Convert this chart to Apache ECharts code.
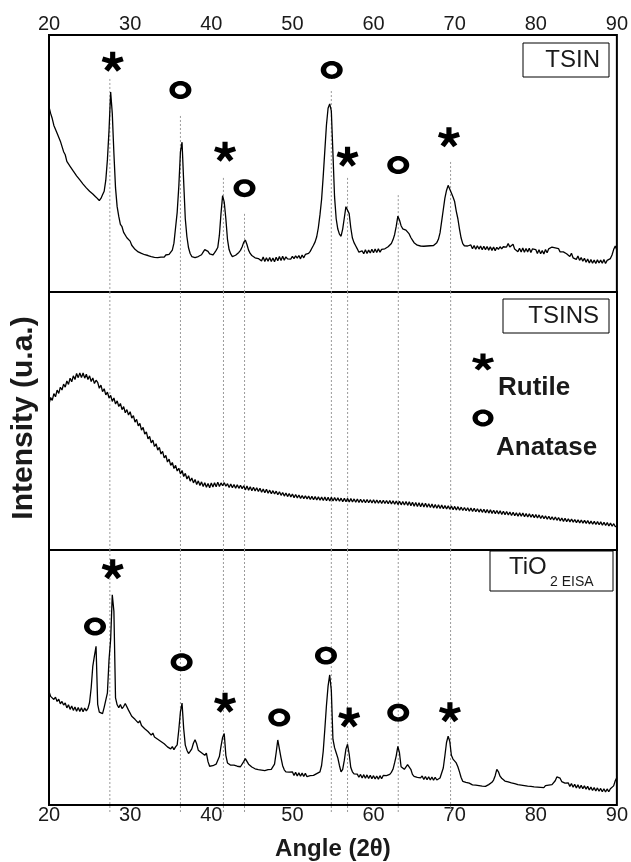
<!DOCTYPE html>
<html>
<head>
<meta charset="utf-8">
<script src="https://cdn.jsdelivr.net/npm/echarts@6/dist/echarts.min.js"></script>
<style>
  html, body { margin: 0; padding: 0; background: #fff; }
  #chart { width: 631px; height: 862px; }
</style>
</head>
<body>
<div id="chart"></div>
<script>
// x ticks and sampling step (2theta, degrees)
var tickMin = 20, tickMax = 90, tickStep = 10;
var angles = [];
for (var i = 0; i <= 350; i++) angles.push(+(20 + i * 0.2).toFixed(1));

// TSIN (top panel), one row = 2 degrees
var tsin = [
  72, 69.5, 67.5, 64.8, 64.2, 61.8, 61.5, 58.7, 58, 54.6,        // 20
  53.4, 50.8, 51, 48.9, 49.3, 47, 46.9, 45.2, 45.3, 43.6,        // 22
  43.8, 42, 42.4, 40.5, 40.9, 39.2, 39.9, 38.1, 38.5, 36.9,      // 24
  37.2, 35.6, 36.4, 37.8, 39.2, 43.5, 51.5, 63, 77.8, 69.5,      // 26
  54, 40.5, 33.2, 29.4, 26.3, 25.4, 23.2, 22.7, 21.1, 20.8,      // 28
  19.8, 18.2, 17.9, 16.6, 17.1, 15.6, 16.2, 15, 15.5, 14.5,      // 30
  14.9, 14.2, 14.6, 13.8, 14.3, 13.5, 14.1, 13.4, 13.9, 13.6,    // 32
  14, 13.6, 14.4, 14, 14.6, 15.2, 16.3, 19, 25, 31,              // 34
  41, 54.5, 58.3, 43, 28.5, 21.5, 17.2, 15, 13.8, 13.2,          // 36
  13.4, 13, 13.8, 13.7, 14.5, 15.5, 16.5, 17, 15.8, 14.8,        // 38
  14.2, 14.4, 15.2, 16.2, 17.3, 22, 30.5, 37.5, 35, 28.5,        // 40
  20.5, 16.5, 14.8, 13.8, 14, 14.3, 14.9, 15.4, 16.2, 17.5,      // 42
  19.3, 20.2, 18.5, 16.3, 15, 14.2, 13.7, 13.3, 13.6, 13,        // 44
  13.5, 12.1, 13.6, 11.9, 13.3, 12, 13.4, 11.9, 13.2, 11.8,      // 46
  13.5, 12.2, 13.8, 12.3, 13.9, 12.4, 13.7, 12.9, 13.6, 12.8,    // 48
  13.9, 13, 14.1, 13.2, 14.2, 12.9, 14.4, 13.3, 14.6, 14,        // 50
  15, 15.8, 17, 18.2, 19.5, 21.5, 25, 30, 36, 45,                // 52
  55, 65, 71.5, 73.2, 70.5, 54, 37, 28.5, 24.5, 22.5,            // 54
  21.7, 24.5, 28.8, 33.2, 33.6, 30.5, 25, 21, 19.2, 18,          // 56
  16.8, 15.5, 15.1, 16, 14.9, 16.4, 15, 16.3, 15.2, 16.6,        // 58
  15.3, 16.7, 15.4, 16.8, 15.5, 16.6, 16, 16.8, 16.5, 17.6,      // 60
  17.8, 18.9, 20.3, 22.3, 25.5, 29.5, 28, 25.8, 24.6, 24.9,      // 62
  24.1, 23.4, 22.6, 21.2, 20.2, 19.2, 18.6, 18.2, 17.6, 17.9,    // 64
  17.4, 17.8, 17.3, 17.9, 17.5, 18, 17.6, 18.1, 18.6, 19.2,      // 66
  20.5, 23, 27.5, 32, 36.5, 39.5, 41.5, 41.8, 38.5, 37,          // 68
  35.2, 31.5, 28.5, 24.5, 21, 18.8, 18, 17.6, 17.9, 17.3,        // 70
  18.3, 16.8, 18.1, 16.6, 18, 16.7, 17.9, 16.4, 17.8, 16.5,      // 72
  17.7, 16.3, 17.6, 16.2, 17.5, 16.1, 17.4, 16.6, 17.6, 16.8,    // 74
  17.6, 18, 17.5, 18.9, 17.5, 17, 18.6, 16.7, 16.4, 15.7,        // 76
  17, 15.6, 17.1, 15.5, 16.9, 15.6, 17, 15.4, 16.8, 16.2,        // 78
  16.5, 15, 16.4, 14.9, 16.1, 14.8, 16.5, 15.3, 16.8, 16.4,      // 80
  17.5, 16.8, 17.2, 16.6, 16.9, 15.6, 16.1, 15.6, 15.7, 14.9,    // 82
  15.3, 13.8, 15.1, 13.3, 13.9, 12.7, 14, 12.3, 13.4, 12,        // 84
  13.1, 11.6, 12.8, 11.3, 12.6, 11.2, 12.4, 11.1, 12.5, 11.3,    // 86
  12.4, 11.2, 12.6, 11.1, 12.3, 11.8, 13, 14.4, 16.5, 17.9,      // 88
  16.3                                                           // 90
];

// TSINS (middle panel)
var tsins = [
  56.6, 59.1, 58, 60.6, 59.4, 62, 60.7, 63.1, 62, 64.3,          // 20
  63.1, 65.5, 64.2, 66.6, 65.2, 67.5, 66.1, 68.4, 66.8, 68.6,    // 22
  66.8, 68.6, 66.6, 68.1, 66.1, 67.5, 65.3, 66.7, 64.5, 65.8,    // 24
  65, 62.7, 63.9, 61.4, 62.5, 60.1, 61.2, 58.9, 59.9, 57.6,      // 26
  58.9, 56.6, 57.8, 55.6, 56.8, 54.4, 55.6, 53.2, 54.4, 52.3,    // 28
  53.6, 51.1, 52.1, 49.6, 50.6, 48.1, 49.1, 46.5, 47.5, 44.9,    // 30
  45.8, 43.1, 44, 41.5, 42.6, 40.1, 41.2, 38.7, 39.8, 37.2,      // 32
  38.2, 35.7, 36.7, 34.1, 35.2, 32.8, 33.9, 31.6, 32.8, 30.6,    // 34
  31.7, 29.5, 30.8, 28.5, 29.7, 27.5, 28.8, 26.7, 27.9, 26,      // 36
  27.3, 25.4, 26.8, 25, 26.4, 24.6, 26.1, 24.3, 25.8, 24.1,      // 38
  26, 24.4, 26.1, 24.5, 26.3, 24.6, 26, 24.9, 26.1, 24.7,        // 40
  25.7, 24.2, 25.6, 24.1, 25.4, 23.9, 25.3, 23.9, 25.1, 23.8,    // 42
  24.9, 23.3, 24.8, 23.2, 24.5, 23, 24.3, 22.9, 24.1, 22.7,      // 44
  23.9, 22.4, 23.6, 22.2, 23.5, 22, 23.2, 21.8, 23, 21.7,        // 46
  22.8, 21.4, 22.6, 21.2, 22.3, 20.9, 22.1, 20.7, 21.9, 20.6,    // 48
  21.7, 20.3, 21.5, 20.2, 21.3, 20, 21.1, 19.9, 21, 19.8,        // 50
  20.9, 19.6, 20.8, 19.5, 20.7, 19.4, 20.6, 19.3, 20.5, 19.2,    // 52
  20.5, 19.1, 20.4, 19, 20.4, 19, 20.3, 19, 20.2, 18.9,          // 54
  20.1, 18.7, 20, 18.7, 20, 18.6, 19.9, 18.6, 19.8, 18.5,        // 56
  19.8, 18.4, 19.7, 18.4, 19.6, 18.3, 19.6, 18.3, 19.5, 18.2,    // 58
  19.5, 18.1, 19.4, 18.1, 19.3, 18, 19.3, 18, 19.2, 17.9,        // 60
  19.2, 17.8, 19.1, 17.7, 19, 17.6, 18.9, 17.5, 18.8, 17.4,      // 62
  18.8, 17.3, 18.7, 17.2, 18.5, 17, 18.4, 16.9, 18.3, 16.8,      // 64
  18.2, 16.7, 18.1, 16.6, 17.9, 16.5, 17.8, 16.3, 17.6, 16.2,    // 66
  17.5, 16.1, 17.4, 16, 17.2, 15.9, 17.1, 15.8, 17, 15.6,        // 68
  16.9, 15.5, 16.8, 15.4, 16.6, 15.3, 16.5, 15.2, 16.4, 15,      // 70
  16.3, 14.9, 16.2, 14.8, 16, 14.7, 15.9, 14.6, 15.8, 14.4,      // 72
  15.7, 14.3, 15.6, 14.2, 15.4, 14.1, 15.3, 14, 15.2, 13.8,      // 74
  15, 13.7, 14.9, 13.6, 14.7, 13.4, 14.6, 13.3, 14.4, 13.1,      // 76
  14.4, 13.1, 14.3, 12.9, 14.1, 12.8, 14, 12.7, 13.8, 12.5,      // 78
  13.7, 12.4, 13.6, 12.2, 13.4, 12.1, 13.2, 11.9, 13.1, 11.8,    // 80
  12.9, 11.6, 12.8, 11.5, 12.6, 11.3, 12.4, 11.1, 12.3, 11,      // 82
  12.1, 10.9, 12, 10.8, 11.8, 10.6, 11.7, 10.5, 11.6, 10.4,      // 84
  11.5, 10.3, 11.4, 10.1, 11.2, 10, 11.1, 9.9, 11, 9.8,          // 86
  10.9, 9.6, 10.7, 9.5, 10.6, 9.3, 10.4, 9.2, 10.2, 9,           // 88
  9.3                                                            // 90
];

// TiO2 EISA (bottom panel)
var tio2 = [
  44.5, 42.6, 43.2, 41.4, 42.3, 40.6, 41.5, 39.7, 40.6, 39.2,    // 20
  40, 38.1, 39.3, 37.5, 38.8, 37.1, 38.4, 36.8, 38.2, 36.7,      // 22
  38.1, 36.6, 38, 36.9, 37.9, 40.2, 46, 54.5, 58.5, 62.2,        // 24
  39.5, 36.4, 36.9, 35.8, 38.3, 38.6, 44, 57, 65, 82.4,          // 26
  76, 42, 39.3, 38.2, 39.4, 37.8, 38.6, 39.8, 40.1, 37.2,        // 28
  36.6, 34.8, 35.5, 33.6, 34, 32.2, 33.1, 31.2, 31.7, 29.9,      // 30
  30.6, 28.8, 29.1, 27.4, 28.2, 26.7, 27.4, 25.8, 26.5, 24.9,    // 32
  25.5, 24, 24.3, 22.8, 23.4, 22, 22.9, 21.7, 22.8, 23.6,        // 34
  29.5, 36.5, 40, 30, 23.5, 21.5, 20.2, 21, 22, 24.2,            // 36
  25.6, 24, 21.5, 21.2, 20.5, 20.8, 19.5, 20.3, 17, 15.2,        // 38
  15, 15.4, 15.2, 16, 16.5, 19, 23, 26.5, 28, 19.5,              // 40
  16.5, 16, 15.6, 15.3, 15.6, 15, 15.2, 14.6, 15, 15.5,          // 42
  17, 18.2, 17.8, 16, 15.4, 14.9, 14.6, 14.2, 14.5, 13.9,        // 44
  14.2, 13.7, 14, 13.5, 13.4, 13.9, 13.5, 14, 14.6, 16,          // 46
  20.5, 25.5, 25, 18.5, 15.4, 13.8, 13, 12.6, 12.9, 12.3,        // 48
  13, 11.6, 12.8, 11.4, 12.6, 11.3, 12.5, 11.2, 12.4, 11.1,      // 50
  11.8, 11.5, 11.9, 11.6, 12, 12.3, 12.6, 13, 15.5, 21,          // 52
  29.7, 39, 46.6, 51, 45, 25.8, 22.5, 20.5, 18.5, 15.5,          // 54
  13, 14, 17.5, 21.9, 23.8, 20, 14.7, 13, 12.2, 12,              // 56
  12.1, 10.9, 12, 10.6, 11.9, 10.5, 11.8, 10.4, 11.7, 10.3,      // 58
  11.5, 10.2, 11.4, 10.1, 11.5, 10.3, 11.6, 11, 11.5, 11.2,      // 60
  12, 12.8, 14, 16.5, 19.3, 23, 20.5, 15, 14.5, 14,              // 62
  14.6, 15.8, 16, 14, 12, 11.2, 11, 10.8, 11.1, 10.6,            // 64
  11.4, 10, 11.2, 9.9, 11.1, 9.8, 11, 9.7, 10.9, 9.8,            // 66
  10.5, 10.6, 11, 14.5, 19.3, 24.5, 27, 25, 19.5, 18,            // 68
  17.5, 16.5, 15, 13, 10.8, 9.3, 8.7, 8.9, 8.3, 8.6,             // 70
  8.6, 7.9, 8.5, 7.8, 8.2, 7.6, 8, 7.4, 7.9, 7.3,                // 72
  7.6, 8, 8.4, 8.9, 9.8, 11.5, 14, 13, 11.3, 10.5,               // 74
  10.7, 9.4, 9.8, 9.1, 9.4, 8.7, 9.1, 8.4, 8.7, 8,               // 76
  8.5, 7.8, 8.4, 7.6, 8.1, 7.4, 7.9, 7.3, 7.8, 7.1,              // 78
  7.7, 7, 7.5, 6.9, 7.4, 6.8, 7.6, 7.1, 7.8, 7.4,                // 80
  8, 8.6, 9.5, 11, 11.7, 10.5, 9.2, 8.5, 8.6, 8,                 // 82
  8.7, 7.3, 8.4, 7, 8.1, 6.7, 7.9, 6.5, 7.7, 6.4,                // 84
  7.5, 6.2, 7.3, 5.9, 7, 5.7, 6.8, 5.5, 6.7, 5.4,                // 86
  6.5, 5.2, 6.4, 5.1, 6.3, 5.2, 6.4, 6.3, 7.5, 9.5,              // 88
  10.8                                                           // 90
];

// reflection markers [angle, level in panel units]
var tsinRutile = [[27.85, 89.6], [41.7, 54.6], [56.8, 52.6], [69.3, 60.2]];
var tsinAnatase = [[36.2, 78.6], [44.1, 40.4], [54.85, 86.4], [63.05, 49.4]];
var tio2Rutile = [[27.85, 92.5], [41.7, 40.1], [57.0, 34.3], [69.42, 36.4]];
var tio2Anatase = [[25.67, 70], [36.35, 56], [48.38, 34.3], [54.14, 58.6], [63.05, 36.2]];

// dotted guide lines: [angle, top level in TSIN panel]
var guideLines = [[27.5, 82.9], [36.2, 68.5], [41.5, 44.4], [44.1, 30.4],
                  [54.8, 78.2], [56.8, 44.4], [63.05, 37.7], [69.5, 50.6]];

var FONT = "'Liberation Sans', Arial, sans-serif";

// five-armed asterisk as polygons in unit space
function asteriskArms() {
    var arms = [];
    for (var k = 0; k < 5; k++) {
        var a = (-90 + 72 * k) * Math.PI / 180;
        var dx = Math.cos(a), dy = Math.sin(a), nx = -dy, ny = dx;
        var w = 0.24, b = -0.15;
        arms.push([
            [b * dx + w * nx, b * dy + w * ny],
            [dx + w * nx, dy + w * ny],
            [dx - w * nx, dy - w * ny],
            [b * dx - w * nx, b * dy - w * ny]
        ]);
    }
    return arms;
}
function polysToPath(polys) {
    return 'path://' + polys.map(function (p) {
        return 'M' + p.map(function (q) { return q[0].toFixed(3) + ' ' + q[1].toFixed(3); }).join('L') + 'Z';
    }).join('');
}
function ringPolys(inner) {
    var outer = [], hole = [];
    for (var i = 0; i < 48; i++) {
        var a = i * Math.PI * 2 / 48;
        outer.push([Math.cos(a), Math.sin(a)]);
        hole.push([inner * Math.cos(-a), inner * Math.sin(-a)]);
    }
    return [outer, hole];
}
var starSymbol = polysToPath(asteriskArms());
var ringSymbol = polysToPath(ringPolys(0.5));

// fit polygons into a box for the legend
function fitPolys(polys, cx, cy, w, h) {
    var x0 = Infinity, x1 = -Infinity, y0 = Infinity, y1 = -Infinity;
    polys.forEach(function (p) { p.forEach(function (q) {
        x0 = Math.min(x0, q[0]); x1 = Math.max(x1, q[0]);
        y0 = Math.min(y0, q[1]); y1 = Math.max(y1, q[1]);
    }); });
    return polys.map(function (p) {
        return p.map(function (q) {
            return [cx - w / 2 + (q[0] - x0) / (x1 - x0) * w, cy - h / 2 + (q[1] - y0) / (y1 - y0) * h];
        });
    });
}

function pairs(vals) {
    return angles.map(function (a, i) { return [a, vals[i]]; });
}

var chart = echarts.init(document.getElementById('chart'), null, { renderer: 'canvas' });

var grids = [
    { left: 49, right: 14, top: 35, height: 257 },
    { left: 49, right: 14, top: 292, height: 258 },
    { left: 49, right: 14, top: 550, height: 256 }
].map(function (g) {
    g.show = true; g.borderColor = '#000'; g.borderWidth = 2; g.backgroundColor = 'transparent';
    return g;
});

function xAxisFor(idx, show, position, margin) {
    return {
        gridIndex: idx, type: 'value', min: tickMin, max: tickMax, interval: tickStep,
        position: position, show: show,
        axisLine: { show: false }, axisTick: { show: false }, splitLine: { show: false },
        axisLabel: { fontSize: 20, color: '#1a1a1a', fontFamily: FONT, margin: margin }
    };
}
var xAxes = [xAxisFor(0, true, 'top', 1), xAxisFor(1, false, 'bottom', 0), xAxisFor(2, true, 'bottom', 0)];
xAxes[2].name = 'Angle (2\u03b8)';
xAxes[2].nameLocation = 'middle';
xAxes[2].nameGap = 32;
xAxes[2].nameTextStyle = { fontSize: 24, fontWeight: 'bold', color: '#1a1a1a', fontFamily: FONT };

var yAxes = [0, 1, 2].map(function (i) {
    return { gridIndex: i, type: 'value', min: 0, max: 100, show: false };
});

function guideSeries(idx, data, extend) {
    return {
        type: 'custom', xAxisIndex: idx, yAxisIndex: idx, z: 1, silent: true,
        clip: false,
        renderItem: function (params, api) {
            var p1 = api.coord([api.value(0), api.value(1)]);
            var p2 = api.coord([api.value(0), api.value(2)]);
            return {
                type: 'line',
                shape: { x1: p1[0], y1: p1[1], x2: p2[0], y2: p2[1] + extend },
                style: { stroke: '#9a9a9a', lineWidth: 1, lineDash: [2, 2] }
            };
        },
        data: data
    };
}

function curve(idx, vals) {
    return {
        type: 'line', xAxisIndex: idx, yAxisIndex: idx, z: 3, silent: true,
        showSymbol: false, symbol: 'none',
        lineStyle: { color: '#000', width: 1.3 },
        data: pairs(vals)
    };
}

function markers(idx, data, symbol, size) {
    return {
        type: 'scatter', xAxisIndex: idx, yAxisIndex: idx, z: 4, silent: true,
        symbol: symbol, symbolSize: size,
        itemStyle: { color: '#000', opacity: 1 },
        data: data
    };
}

var legendStar = fitPolys(asteriskArms(), 483, 362, 22, 17);
var legendRing = fitPolys(ringPolys(0.5), 483, 418, 21, 17);

function boxText(text, x, y, size, align) {
    return {
        type: 'text', x: x, y: y, z: 10,
        style: { text: text, font: size + 'px ' + FONT, fill: '#1a1a1a', align: align, verticalAlign: 'middle' }
    };
}

chart.setOption({
    animation: false,
    grid: grids,
    xAxis: xAxes,
    yAxis: yAxes,
    series: [
        guideSeries(0, guideLines.map(function (g) { return [g[0], g[1], 0]; }), 0),
        guideSeries(1, guideLines.map(function (g) { return [g[0], 100, 0]; }), 0),
        guideSeries(2, guideLines.map(function (g) { return [g[0], 100, 0]; }), 9),
        curve(0, tsin),
        curve(1, tsins),
        curve(2, tio2),
        markers(0, tsinRutile, starSymbol, [22, 20]),
        markers(0, tsinAnatase, ringSymbol, [22, 18]),
        markers(2, tio2Rutile, starSymbol, [22, 20]),
        markers(2, tio2Anatase, ringSymbol, [22, 18])
    ],
    graphic: [
        { type: 'rect', z: 9, shape: { x: 523, y: 43, width: 86, height: 34 },
          style: { fill: '#fff', stroke: '#000', lineWidth: 1 } },
        boxText('TSIN', 600, 60, 24, 'right'),
        { type: 'rect', z: 9, shape: { x: 503, y: 299, width: 106, height: 34 },
          style: { fill: '#fff', stroke: '#000', lineWidth: 1 } },
        boxText('TSINS', 599, 316, 24, 'right'),
        { type: 'rect', z: 9, shape: { x: 490, y: 551, width: 123, height: 40 },
          style: { fill: '#fff', stroke: '#000', lineWidth: 1 } },
        boxText('TiO', 509, 567, 24, 'left'),
        boxText('2 EISA', 550, 582, 14, 'left'),
        // phase legend
        { type: 'group', z: 10, children: legendStar.map(function (p) {
            return { type: 'polygon', shape: { points: p }, style: { fill: '#000' } };
        }) },
        { type: 'group', z: 10, children: [{
            type: 'polygon', shape: { points: legendRing[0] }, style: { fill: '#000' }
        }, {
            type: 'polygon', shape: { points: legendRing[1] }, style: { fill: '#fff' }
        }] },
        { type: 'text', x: 498, y: 388, z: 10,
          style: { text: 'Rutile', font: 'bold 26px ' + FONT, fill: '#1a1a1a', verticalAlign: 'middle' } },
        { type: 'text', x: 496, y: 448, z: 10,
          style: { text: 'Anatase', font: 'bold 26px ' + FONT, fill: '#1a1a1a', verticalAlign: 'middle' } },
        // y axis title
        { type: 'text', x: 24, y: 418, rotation: Math.PI / 2, z: 10,
          style: { text: 'Intensity (u.a.)', font: 'bold 30px ' + FONT, fill: '#1a1a1a',
                   align: 'center', verticalAlign: 'middle' } }
    ]
});
</script>
</body>
</html>
